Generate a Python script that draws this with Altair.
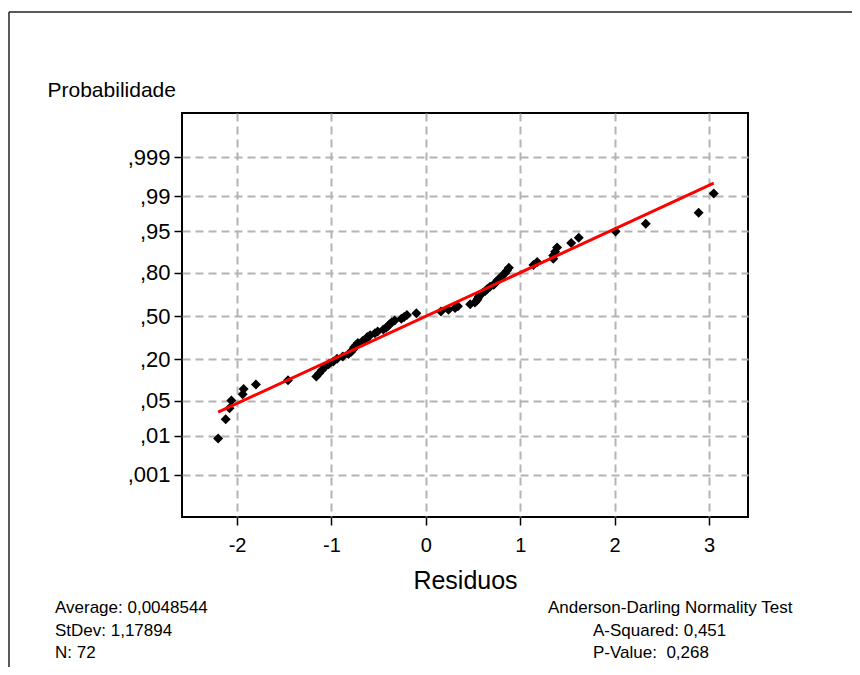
import altair as alt
import pandas as pd
from statistics import NormalDist

# ---- data (sorted residuals) ----
residuals = [
    -2.20, -2.12, -2.08, -2.06, -1.94, -1.93, -1.80, -1.46, -1.16, -1.13,
    -1.10, -1.07, -1.03, -0.98, -0.94, -0.88, -0.82, -0.79, -0.77, -0.76,
    -0.74, -0.72, -0.67, -0.63, -0.62, -0.59, -0.54, -0.51, -0.45, -0.42,
    -0.40, -0.38, -0.36, -0.33, -0.26, -0.23, -0.20, -0.10, 0.16, 0.24,
    0.31, 0.34, 0.47, 0.52, 0.54, 0.55, 0.56, 0.57, 0.60, 0.63,
    0.65, 0.68, 0.72, 0.74, 0.76, 0.79, 0.81, 0.84, 0.86, 0.88,
    1.14, 1.18, 1.35, 1.35, 1.37, 1.39, 1.54, 1.62, 2.01, 2.33,
    2.89, 3.05,
]
mean_value = 0.0048544
stdev_value = 1.17894

prob_ticks = [0.001, 0.01, 0.05, 0.20, 0.50, 0.80, 0.95, 0.99, 0.999]
prob_labels = [",001", ",01", ",05", ",20", ",50", ",80", ",95", ",99", ",999"]
x_ticks = [-2, -1, 0, 1, 2, 3]

footer_left = ["Average: 0,0048544", "StDev: 1,17894", "N: 72"]
footer_right = ["Anderson-Darling Normality Test", "A-Squared: 0,451", "P-Value:\u00a0 0,268"]

# ---- derived tables ----
nd = NormalDist()
n = len(residuals)
zs = [nd.inv_cdf((i + 1 - 0.375) / (n + 0.25)) for i in range(n)]
pts = pd.DataFrame({"x": residuals, "z": zs})

xmin, xmax = min(residuals), max(residuals)
line_df = pd.DataFrame({
    "x": [xmin, xmax],
    "z": [(xmin - mean_value) / stdev_value, (xmax - mean_value) / stdev_value],
})

z_ticks = [nd.inv_cdf(p) for p in prob_ticks]
expr = ""
for i in range(len(z_ticks) - 1):
    mid = (z_ticks[i] + z_ticks[i + 1]) / 2
    expr += f"datum.value < {mid:.4f} ? '{prob_labels[i]}' : "
expr += f"'{prob_labels[-1]}'"

FONT = "Liberation Sans"
GRID = "#b4b4b4"

xenc = alt.X("x:Q",
             scale=alt.Scale(domain=[-2.583, 3.413], nice=False, zero=False),
             axis=alt.Axis(values=x_ticks,
                           labelExpr="datum.value < 0 ? '-' + abs(datum.value) : '' + datum.value",
                           title="Residuos",
                           titleFontSize=25, titleFontWeight="normal", titleFont=FONT,
                           titlePadding=13, titleColor="black",
                           labelFontSize=20, labelFont=FONT, labelColor="black",
                           labelPadding=10, tickSize=8, tickWidth=1.5, tickColor="black",
                           domain=False, grid=True, gridColor=GRID, gridDash=[8, 5],
                           gridWidth=2))
yenc = alt.Y("z:Q",
             scale=alt.Scale(domain=[-3.907, 3.946], nice=False, zero=False),
             axis=alt.Axis(values=z_ticks, labelExpr=expr, title="Probabilidade",
                           titleAngle=0, titleAlign="left", titleBaseline="middle",
                           titleX=-135, titleY=-23, titleFontSize=21,
                           titleFontWeight="normal", titleFont=FONT, titleColor="black",
                           labelFontSize=22, labelFont=FONT, labelColor="black",
                           labelPadding=4, tickSize=8, tickWidth=1.5, tickColor="black",
                           domain=False, grid=True, gridColor=GRID, gridDash=[8, 5],
                           gridWidth=2))

points = alt.Chart(pts).mark_point(shape="diamond", filled=True, color="black",
                                   size=100, opacity=1).encode(x=xenc, y=yenc)
fit = alt.Chart(line_df).mark_line(color="#ff0000", strokeWidth=3).encode(x="x:Q", y="z:Q")

one = pd.DataFrame({"a": [0]})
frame_top = alt.Chart(one).mark_rule(color="#222", strokeWidth=1.5).encode(
    x=alt.value(-173), x2=alt.value(700), y=alt.value(-101))
frame_left = alt.Chart(one).mark_rule(color="#222", strokeWidth=1.5).encode(
    x=alt.value(-173), y=alt.value(-101), y2=alt.value(600))

texts = []
ys = [495, 518, 540]
for t, yy in zip(footer_left, ys):
    texts.append(alt.Chart(one).mark_text(align="left", baseline="middle", font=FONT,
                                          fontSize=17, color="black").encode(
        x=alt.value(-127), y=alt.value(yy), text=alt.value(t)))
right_x = [366, 411, 411]
for t, xx, yy in zip(footer_right, right_x, ys):
    texts.append(alt.Chart(one).mark_text(align="left", baseline="middle", font=FONT,
                                          fontSize=17, color="black").encode(
        x=alt.value(xx), y=alt.value(yy), text=alt.value(t)))

chart = alt.layer(points, fit, frame_top, frame_left, *texts).properties(
    width=566, height=404,
    padding={"left": 174, "top": 105, "right": 104, "bottom": 150},
    autosize=alt.AutoSizeParams(type="none"),
    background="white",
).configure(font=FONT).configure_view(stroke="black", strokeWidth=2)

chart.save("out.html", embed_options={"renderer": "svg", "actions": False})
